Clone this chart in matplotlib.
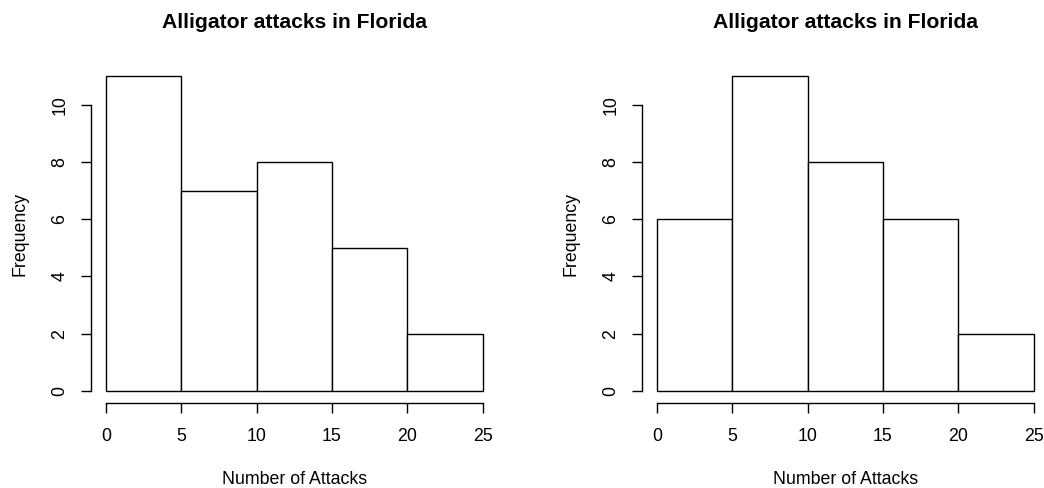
import matplotlib.pyplot as plt

plt.rcParams["font.family"] = ["Liberation Sans", "DejaVu Sans"]

# Histogram data (bin edges and counts)
bin_edges = [0, 5, 10, 15, 20, 25]
counts_left = [11, 7, 8, 5, 2]
counts_right = [6, 11, 8, 6, 2]
x_ticks = [0, 5, 10, 15, 20, 25]
y_ticks = [0, 2, 4, 6, 8, 10]

title = "Alligator attacks in Florida"
xlabel = "Number of Attacks"
ylabel = "Frequency"

W, H = 1044, 488
fig = plt.figure(figsize=(W / 100, H / 100), dpi=100)


def hist_panel(left_px, counts):
    # plot region in pixels, R style with 4% padding
    right_px = left_px + 407
    top_px, bottom_px = 63.8, 403.4
    ax = fig.add_axes([left_px / W, 1 - bottom_px / H,
                       (right_px - left_px) / W, (bottom_px - top_px) / H])
    widths = [bin_edges[i + 1] - bin_edges[i] for i in range(len(counts))]
    ax.bar(bin_edges[:-1], counts, width=widths, align="edge",
           color="white", edgecolor="black", linewidth=1.0)
    ax.set_xlim(-1, 26)
    ax.set_ylim(-0.44, 11.44)
    for s in ["top", "right"]:
        ax.spines[s].set_visible(False)
    ax.spines["left"].set_bounds(0, 10)
    ax.spines["bottom"].set_bounds(0, 25)
    ax.spines["left"].set_linewidth(1.0)
    ax.spines["bottom"].set_linewidth(1.0)
    ax.set_xticks(x_ticks)
    ax.set_yticks(y_ticks)
    ax.tick_params(axis="both", length=7.5, width=1.0, labelsize=12.8)
    ax.tick_params(axis="x", pad=10.5)
    ax.tick_params(axis="y", pad=8.5)
    for lab in ax.get_yticklabels():
        lab.set_rotation(90)
        lab.set_va("center")
    ax.set_title(title, fontsize=15.2, fontweight="bold", pad=26)
    ax.set_xlabel(xlabel, fontsize=12.8, labelpad=18.5)
    ax.set_ylabel(ylabel, fontsize=12.8, labelpad=16.5)
    return ax


hist_panel(90.7, counts_left)
hist_panel(641.7, counts_right)

plt.savefig("out.png", dpi=100)
